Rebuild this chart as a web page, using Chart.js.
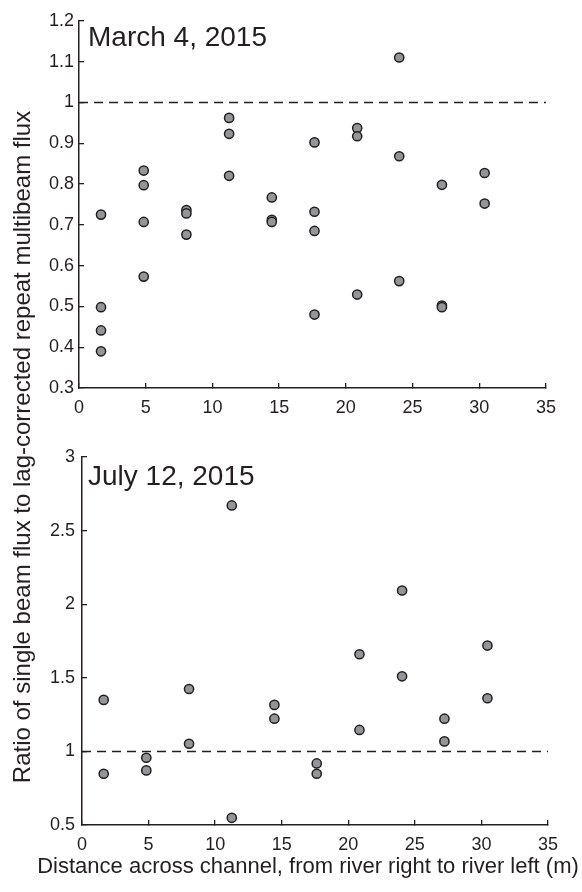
<!DOCTYPE html>
<html>
<head>
<meta charset="utf-8">
<script src="https://cdn.jsdelivr.net/npm/chart.js@4"></script>
<style>
    body { margin: 0; background: #fff; font-family: "Liberation Sans", Arial, sans-serif; color: #231f20; }
    #page { position: relative; width: 582px; height: 892px; overflow: hidden; }
    .panel { position: absolute; left: 0; }
    .date-label { position: absolute; left: 88px; font-size: 28px; line-height: 28px; white-space: nowrap; }
    #x-title { position: absolute; left: 0; width: 616px; top: 854px; font-size: 22px; line-height: 24px; text-align: center; white-space: nowrap; }
    #y-title { position: absolute; left: -328px; top: 434px; width: 700px; height: 26px; font-size: 24px; line-height: 26px;
               text-align: center; white-space: nowrap; transform: rotate(-90deg); }
</style>
</head>
<body>
<div id="page">
    <canvas id="march-chart" class="panel" width="582" height="420" style="top:0"></canvas>
    <canvas id="july-chart" class="panel" width="582" height="430" style="top:430px"></canvas>
    <div class="date-label" style="top:23px">March 4, 2015</div>
    <div class="date-label" style="top:462px">July 12, 2015</div>
    <div id="x-title">Distance across channel, from river right to river left (m)</div>
    <div id="y-title">Ratio of single beam flux to lag-corrected repeat multibeam flux</div>
</div>
<script>
// Tick values
var xTicks = [0, 5, 10, 15, 20, 25, 30, 35];
var marchTicks = [0.3, 0.4, 0.5, 0.6, 0.7, 0.8, 0.9, 1, 1.1, 1.2];
var julyTicks = [0.5, 1, 1.5, 2, 2.5, 3];

// Reference line (ratio = 1)
var refX = [0, 35];
var refY = [1, 1];

// March 4, 2015 measurements
var marchX = [1.65, 1.65, 1.65, 1.65, 4.85, 4.85, 4.85, 4.85, 8.05, 8.05, 8.05,
    11.25, 11.25, 11.25, 14.45, 14.45, 14.45, 17.65, 17.65, 17.65, 17.65,
    20.85, 20.85, 20.85, 24.0, 24.0, 24.0, 27.2, 27.2, 27.2, 30.4, 30.4];
var marchRatio = [0.725, 0.498, 0.441, 0.390, 0.833, 0.797, 0.707, 0.573, 0.736, 0.728, 0.676,
    0.962, 0.923, 0.820, 0.767, 0.712, 0.707, 0.902, 0.732, 0.685, 0.480,
    0.937, 0.917, 0.529, 1.110, 0.868, 0.562, 0.798, 0.502, 0.498, 0.827, 0.752];

// July 12, 2015 measurements
var julyX = [1.63, 1.63, 4.83, 4.83, 8.04, 8.04, 11.25, 11.25, 14.45, 14.45,
    17.63, 17.63, 20.84, 20.84, 24.04, 24.04, 27.22, 27.22, 30.45, 30.45];
var julyRatio = [1.350, 0.848, 0.957, 0.871, 1.424, 1.052, 2.671, 0.549, 1.316, 1.222,
    0.918, 0.848, 1.660, 1.146, 2.093, 1.510, 1.222, 1.068, 1.719, 1.361];

(function () {
    'use strict';

    var ink = '#231f20';
    var font = { family: '"Liberation Sans", Arial, sans-serif', size: 18 };

    function toPoints(xs, ys) {
        return xs.map(function (x, i) { return { x: x, y: ys[i] }; });
    }

    function fixedTicks(values) {
        return function (scale) {
            scale.ticks = values.map(function (v) { return { value: v }; });
        };
    }

    // Build one panel
    function makePanel(id, xs, ys, yTicks, box) {
        new Chart(document.getElementById(id), {
            data: {
                datasets: [{
                    type: 'line',
                    data: toPoints(refX, refY),
                    borderColor: ink,
                    borderWidth: 1.5,
                    borderDash: [9, 6],
                    pointRadius: 0
                }, {
                    type: 'scatter',
                    data: toPoints(xs, ys),
                    backgroundColor: '#939598',
                    borderColor: ink,
                    borderWidth: 1.5,
                    pointRadius: 4.6
                }]
            },
            options: {
                responsive: false,
                animation: false,
                devicePixelRatio: 1,
                layout: { padding: { top: box.top, right: box.right, left: 0, bottom: 0 } },
                plugins: { legend: { display: false }, tooltip: { enabled: false } },
                scales: {
                    x: {
                        type: 'linear',
                        min: 0,
                        max: 35,
                        afterBuildTicks: fixedTicks(xTicks),
                        afterFit: function (scale) { scale.height = box.xHeight; },
                        grid: { drawOnChartArea: false, tickLength: -5, color: ink, lineWidth: 1.3 },
                        border: { color: ink, width: 1.5 },
                        ticks: { color: ink, font: font, padding: 14, maxRotation: 0 }
                    },
                    y: {
                        type: 'linear',
                        min: yTicks[0],
                        max: yTicks[yTicks.length - 1],
                        afterBuildTicks: fixedTicks(yTicks),
                        afterFit: function (scale) { scale.width = box.yWidth; },
                        grid: { drawOnChartArea: false, tickLength: -5, color: ink, lineWidth: 1.3 },
                        border: { color: ink, width: 1.5 },
                        ticks: {
                            color: ink,
                            font: font,
                            padding: box.yPad,
                            callback: function (value) { return String(parseFloat(value.toFixed(2))); }
                        }
                    }
                }
            }
        });
    }

    makePanel('march-chart', marchX, marchRatio, marchTicks, { top: 19, right: 36, xHeight: 32, yWidth: 79, yPad: 10 });
    makePanel('july-chart', julyX, julyRatio, julyTicks, { top: 27, right: 34, xHeight: 35, yWidth: 82, yPad: 12 });
})();
</script>
</body>
</html>
